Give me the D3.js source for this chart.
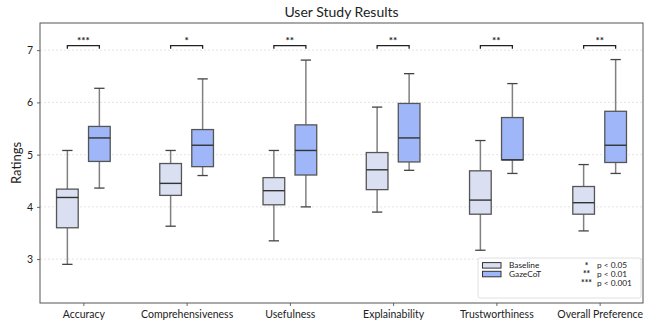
<!DOCTYPE html>
<html><head><meta charset="utf-8">
<script src="https://cdn.jsdelivr.net/npm/d3@7"></script>
<style>body{margin:0;background:#fff}svg{display:block}text{font-family:Lato,"Open Sans",sans-serif;fill:#222}</style>
</head><body><svg id="c" width="649" height="320"></svg>
<script>
const categories = ["Accuracy","Comprehensiveness","Usefulness","Explainability","Trustworthiness","Overall Preference"];
// [whisker low, Q1, median, Q3, whisker high]
const baseline = [
  [2.90,3.60,4.18,4.34,5.08],
  [3.63,4.22,4.45,4.83,5.08],
  [3.35,4.04,4.31,4.56,5.08],
  [3.90,4.33,4.71,5.04,5.91],
  [3.17,3.86,4.13,4.69,5.27],
  [3.54,3.86,4.08,4.39,4.81]
];
const gazecot = [
  [4.36,4.87,5.32,5.54,6.27],
  [4.60,4.77,5.18,5.48,6.45],
  [4.00,4.61,5.08,5.57,6.81],
  [4.70,4.86,5.32,5.98,6.55],
  [4.64,4.90,4.90,5.71,6.36],
  [4.64,4.85,5.18,5.83,6.82]
];
const significance = ["***","*","**","**","**","**"];
const yTicks = [3,4,5,6,7];
const seriesNames = ["Baseline","GazeCoT"];
const seriesColors = ["#dae0f2","#9fb7f9"];
const pLegend = [["*","p < 0.05"],["**","p < 0.01"],["***","p < 0.001"]];

const svg = d3.select("#c");
const L=40, R=643, T=23, B=303;
const x = d3.scaleLinear().domain([0.58,6.42]).range([L,R]);
const y = d3.scaleLinear().domain([2.16,7.52]).range([B,T]);

// grid
svg.append("g").selectAll("line").data(yTicks).join("line")
  .attr("x1",L).attr("x2",R).attr("y1",d=>y(d)).attr("y2",d=>y(d))
  .attr("stroke","#ddd").attr("stroke-width",0.8).attr("stroke-dasharray","2,2");

// axes
const yAxis = svg.append("g").attr("transform",`translate(${L},0)`)
  .call(d3.axisLeft(y).tickValues(yTicks).tickSize(3).tickPadding(4).tickFormat(d3.format("d")));
const xAxis = svg.append("g").attr("transform",`translate(0,${B})`)
  .call(d3.axisBottom(x).tickValues(d3.range(1,7)).tickSize(3).tickPadding(5).tickFormat(d=>categories[d-1]));
[yAxis,xAxis].forEach(g=>{g.select(".domain").remove();g.selectAll("line").attr("stroke","#666");g.selectAll("text").attr("font-size",10.5).attr("fill","#222").style("font-family","Lato, sans-serif");});

// frame
svg.append("rect").attr("x",L).attr("y",T).attr("width",R-L).attr("height",B-T)
  .attr("fill","none").attr("stroke","#555").attr("stroke-width",1);

const off = 0.155, bw = 0.21, cw = 0.1;
[baseline,gazecot].forEach((ser,si)=>{
  const g = svg.append("g");
  ser.forEach((s,i)=>{
    const cx = x(i+1+(si?off:-off));
    const hw = x(1+bw/2)-x(1), chw = x(1+cw/2)-x(1);
    g.append("line").attr("x1",cx).attr("x2",cx).attr("y1",y(s[0])).attr("y2",y(s[1])).attr("stroke","#808080").attr("stroke-width",1.5);
    g.append("line").attr("x1",cx).attr("x2",cx).attr("y1",y(s[3])).attr("y2",y(s[4])).attr("stroke","#808080").attr("stroke-width",1.5);
    [s[0],s[4]].forEach(v=>g.append("line").attr("x1",cx-chw).attr("x2",cx+chw).attr("y1",y(v)).attr("y2",y(v)).attr("stroke","#444").attr("stroke-width",1.3));
    g.append("rect").attr("x",cx-hw).attr("width",2*hw).attr("y",y(s[3])).attr("height",y(s[1])-y(s[3]))
      .attr("fill",seriesColors[si]).attr("stroke","#555").attr("stroke-width",1.3);
    g.append("line").attr("x1",cx-hw).attr("x2",cx+hw).attr("y1",y(s[2])).attr("y2",y(s[2])).attr("stroke","#333").attr("stroke-width",1.4);
  });
});

// significance brackets
significance.forEach((sg,i)=>{
  const x1=x(i+1-off), x2=x(i+1+off), yt=y(7.085), yb=y(7.025);
  svg.append("path").attr("d",`M${x1},${yb}V${yt}H${x2}V${yb}`).attr("fill","none").attr("stroke","#222").attr("stroke-width",1.3);
  svg.append("text").attr("x",(x1+x2)/2).attr("y",yt-1.5).attr("text-anchor","middle").attr("font-size",10).attr("font-weight","bold").text(sg);
});

// title & label
svg.append("text").attr("x",(L+R)/2).attr("y",17).attr("text-anchor","middle").attr("font-size",14).text("User Study Results");
svg.append("text").attr("transform",`translate(21,${(T+B)/2}) rotate(-90)`).attr("text-anchor","middle").attr("font-size",13).text("Ratings");

// legend
const lg = svg.append("g");
lg.append("rect").attr("x",478).attr("y",258).attr("width",163).attr("height",40).attr("rx",2)
  .attr("fill","#fff").attr("fill-opacity",0.9).attr("stroke","#d8d8d8").attr("stroke-width",0.8);
seriesNames.forEach((n,i)=>{
  const yy = 265.3 + i*8.7;
  lg.append("rect").attr("x",482.5).attr("y",yy-2.7).attr("width",18.5).attr("height",5.5).attr("fill",seriesColors[i]).attr("stroke","#333").attr("stroke-width",1);
  lg.append("text").attr("x",509).attr("y",yy+2.8).attr("font-size",8.3).text(n);
});
pLegend.forEach((p,i)=>{
  const yy = 265.3 + i*8.7;
  lg.append("text").attr("x",586.5).attr("y",yy+3.2).attr("text-anchor","middle").attr("font-size",8.5).attr("font-weight","bold").text(p[0]);
  lg.append("text").attr("x",597).attr("y",yy+2.8).attr("font-size",8.3).text(p[1]);
});
</script></body></html>
